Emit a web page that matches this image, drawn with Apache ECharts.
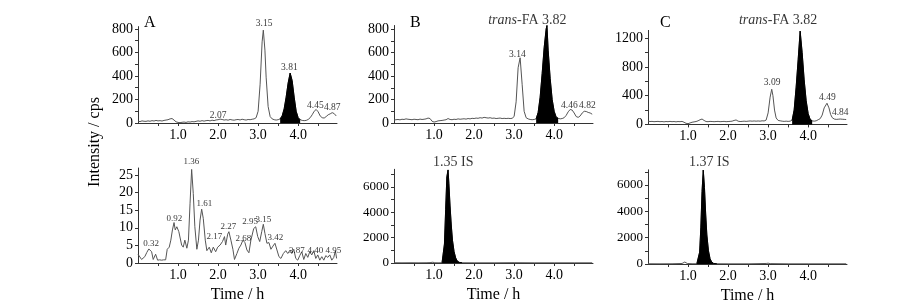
<!DOCTYPE html>
<html><head><meta charset="utf-8">
<script src="https://cdn.jsdelivr.net/npm/echarts@6/dist/echarts.min.js"></script>
<style>html,body{margin:0;padding:0;background:#fff}#c{width:909px;height:305px}</style>
</head><body><div id="c"></div>
<script>
// ---------- data ----------
const xTickValues = [0.5, 1, 1.5, 2, 2.5, 3, 3.5, 4, 4.5];
const xLabelValues = [1, 2, 3, 4];

// Panel A (top): standard chromatogram
const A1_t = [0,0.05,0.1,0.15,0.2,0.25,0.3,0.35,0.4,0.45,0.5,0.55,0.6,0.65,0.7,0.75,0.8,0.85,0.9,0.95,1.0,1.05,1.1,1.15,1.2,1.25,1.3,1.35,1.4,1.45,1.5,1.55,1.6,1.65,1.7,1.75,1.8,1.85,1.9,1.95,2.0,2.05,2.1,2.15,2.2,2.25,2.3,2.35,2.4,2.45,2.5,2.55,2.6,2.65,2.7,2.75,2.8,2.85,2.9,2.95,3.0,3.05,3.1,3.13,3.17,3.2,3.25,3.3,3.35,3.4,3.45,3.5,3.55,3.6,3.65,3.7,3.75,3.8,3.85,3.9,3.95,4.0,4.05,4.1,4.15,4.2,4.25,4.3,4.35,4.4,4.45,4.5,4.55,4.6,4.65,4.7,4.75,4.8,4.85,4.9,4.95];
const A1_v = [15,12,18,15,14,18,15,20,17,22,18,20,17,22,25,28,35,38,25,10,5,3,6,8,5,10,8,12,10,14,18,15,20,16,20,22,18,24,20,26,28,33,30,25,28,24,30,26,24,28,30,26,32,28,25,30,28,32,35,45,100,330,690,790,620,390,140,55,35,28,25,28,35,60,120,220,340,425,360,220,100,45,28,22,20,22,30,45,70,100,115,95,60,45,42,55,70,78,88,80,60];
const A1_fill = [3.55, 4.05];
const A1_peakT = [2.0, 3.15, 3.78, 4.43, 4.85];
const A1_peakV = [68, 843, 468, 145, 136];
const A1_peakTxt = ['2.07', '3.15', '3.81', '4.45', '4.87'];

// Panel A (bottom): blank
const A2_t = [0.00,0.04,0.09,0.17,0.22,0.27,0.31,0.34,0.38,0.44,0.49,0.54,0.59,0.64,0.69,0.73,0.78,0.82,0.86,0.90,0.93,0.97,1.02,1.09,1.13,1.17,1.22,1.26,1.30,1.34,1.38,1.42,1.47,1.51,1.55,1.59,1.63,1.68,1.72,1.78,1.83,1.88,1.94,1.99,2.05,2.11,2.16,2.19,2.24,2.27,2.32,2.37,2.41,2.47,2.52,2.57,2.62,2.67,2.72,2.77,2.82,2.89,2.94,2.99,3.04,3.09,3.13,3.17,3.22,3.27,3.32,3.37,3.42,3.47,3.52,3.57,3.63,3.69,3.74,3.80,3.84,3.89,3.94,3.99,4.04,4.09,4.14,4.19,4.24,4.29,4.34,4.39,4.44,4.49,4.54,4.59,4.64,4.69,4.74,4.79,4.84,4.89,4.93,4.96];
const A2_v = [2.5,2.0,1.0,1.8,3.0,4.0,4.2,3.2,1.0,2.5,0.8,0.9,0.8,0.9,0.9,3.9,4.5,6.5,9.4,11.5,9.4,10.3,8.9,5.1,4.5,6.5,4.2,6.5,17.0,26.6,19.8,10.3,3.9,6.5,12.2,15.3,12.7,6.5,3.5,4.5,2.9,4.5,3.2,4.5,5.1,6.1,7.5,5.1,8.2,8.9,6.5,3.9,1.0,2.7,4.2,5.1,6.5,5.8,3.7,2.9,6.5,9.8,10.3,7.5,6.1,8.9,11.0,8.4,5.6,5.8,3.9,4.8,5.6,3.7,1.8,1.3,2.7,3.5,2.7,3.7,2.7,3.9,1.3,0.8,2.1,3.2,1.0,2.7,1.6,3.2,2.3,3.5,1.3,2.3,0.8,1.8,0.8,2.1,1.6,2.3,0.8,1.6,3.5,1.3];
const A2_peakT = [0.325, 0.91, 1.33, 1.66, 1.91, 2.26, 2.63, 2.80, 3.13, 3.43, 3.97, 4.43, 4.88];
const A2_peakV = [5.6, 12.5, 28.7, 17.0, 7.5, 10.3, 7.0, 11.7, 12.4, 7.3, 3.5, 3.5, 3.5];
const A2_peakTxt = ['0.32','0.92','1.36','1.61','2.17','2.27','2.68','2.95','3.15','3.42','3.87','4.40','4.95'];

// Panel B (top): sample 1
const B1_t = [0,0.05,0.1,0.15,0.2,0.25,0.3,0.35,0.4,0.45,0.5,0.55,0.6,0.65,0.7,0.75,0.8,0.85,0.9,0.95,1.0,1.05,1.1,1.15,1.2,1.25,1.3,1.35,1.4,1.45,1.5,1.55,1.6,1.65,1.7,1.75,1.8,1.85,1.9,1.95,2.0,2.05,2.1,2.15,2.2,2.25,2.3,2.35,2.4,2.45,2.5,2.55,2.6,2.65,2.7,2.75,2.8,2.85,2.9,2.95,3.0,3.05,3.1,3.15,3.2,3.25,3.3,3.35,3.4,3.45,3.5,3.55,3.6,3.65,3.7,3.75,3.8,3.82,3.85,3.9,3.95,4.0,4.05,4.1,4.15,4.2,4.25,4.3,4.35,4.4,4.45,4.5,4.55,4.6,4.65,4.7,4.75,4.8,4.85,4.9,4.95];
const B1_v = [25,28,30,27,32,30,35,32,30,28,32,30,28,33,30,32,35,42,38,15,8,12,18,20,22,25,28,38,30,28,32,30,35,32,34,36,33,38,35,40,38,42,40,45,42,48,45,42,45,40,42,38,40,42,38,40,38,40,38,40,55,180,470,555,330,100,45,35,30,28,30,35,90,220,420,640,800,830,620,380,200,100,50,40,35,38,45,65,95,115,110,85,55,48,60,85,100,98,90,85,75];
const B1_fill = [3.55, 4.1];
const B1_peakT = [3.08, 4.38, 4.83];
const B1_peakV = [579, 153, 153];
const B1_peakTxt = ['3.14', '4.46', '4.82'];
const B1_tagT = 3.33, B1_tagV = 877;

// Panel B (bottom): internal standard
const B2_t = [0.0,0.2,0.4,0.6,0.8,0.9,0.97,1.02,1.1,1.2,1.23,1.26,1.29,1.32,1.35,1.37,1.40,1.43,1.46,1.50,1.54,1.58,1.63,1.70,2.0,2.5,3.0,3.5,4.0,4.5,4.95];
const B2_v = [20,15,20,15,20,30,60,20,15,20,100,1500,4200,6800,7350,6300,4500,3000,1800,900,400,150,50,20,15,15,25,15,15,15,15];
const B2_fill = [1.2, 1.7];
const B2_tagT = 1.48, B2_tagV = 7974, B2_tag = '1.35 IS';

// Panel C (top): sample 2
const C1_t = [0,0.05,0.1,0.15,0.2,0.25,0.3,0.35,0.4,0.45,0.5,0.55,0.6,0.65,0.7,0.75,0.8,0.85,0.9,0.95,1.0,1.05,1.1,1.15,1.2,1.25,1.3,1.35,1.4,1.45,1.5,1.55,1.6,1.65,1.7,1.75,1.8,1.85,1.9,1.95,2.0,2.05,2.1,2.15,2.2,2.25,2.3,2.35,2.4,2.45,2.5,2.55,2.6,2.65,2.7,2.75,2.8,2.85,2.9,2.95,3.0,3.05,3.09,3.12,3.16,3.2,3.25,3.3,3.35,3.4,3.45,3.5,3.55,3.6,3.65,3.7,3.75,3.8,3.85,3.9,3.95,4.0,4.05,4.1,4.15,4.2,4.25,4.3,4.35,4.4,4.47,4.52,4.56,4.6,4.65,4.7,4.75,4.8,4.85,4.9,4.95];
const C1_v = [45,40,42,38,40,42,38,40,36,40,38,42,38,40,36,40,38,42,30,15,10,20,30,35,40,50,65,75,55,40,38,42,40,38,40,42,38,40,42,38,40,42,45,55,62,45,40,42,45,42,45,48,45,48,45,48,45,50,48,60,160,380,490,400,200,90,55,50,45,42,45,42,45,60,200,520,900,1300,1000,620,330,150,70,50,45,50,65,80,130,230,295,230,140,95,75,70,72,75,72,70,68];
const C1_fill = [3.6, 4.1];
const C1_peakT = [3.10, 4.48, 4.80];
const C1_peakV = [577, 372, 159];
const C1_peakTxt = ['3.09', '4.49', '4.84'];
const C1_tagT = 3.25, C1_tagV = 1455;

// Panel C (bottom): internal standard
const C2_t = [0.0,0.3,0.6,0.85,0.92,0.98,1.1,1.22,1.26,1.29,1.32,1.35,1.38,1.41,1.44,1.47,1.51,1.55,1.59,1.64,1.72,2.0,2.5,2.95,3.0,3.05,3.5,4.0,4.5,4.95];
const C2_v = [20,15,20,40,150,40,20,20,100,900,2800,5500,7130,5800,3800,2200,1000,400,150,40,20,15,15,40,60,30,15,15,15,15];
const C2_fill = [1.22, 1.72];
const C2_tagT = 1.53, C2_tagV = 7740, C2_tag = '1.37 IS';

// axis ticks / labels
const A1_yLabels = [0,200,400,600,800], A1_yTicks = [0,100,200,300,400,500,600,700,800];
const A2_yLabels = [0,5,10,15,20,25], A2_yTicks = [0,5,10,15,20,25];
const B1_yLabels = [0,200,400,600,800], B1_yTicks = [0,100,200,300,400,500,600,700,800];
const B2_yLabels = [0,2000,4000,6000], B2_yTicks = [0,1000,2000,3000,4000,5000,6000,7000];
const C1_yLabels = [0,400,800,1200], C1_yTicks = [0,200,400,600,800,1000,1200];
const C2_yLabels = [0,2000,4000,6000], C2_yTicks = [0,1000,2000,3000,4000,5000,6000,7000];

// ---------- build ----------
const SERIF = '"Liberation Serif","DejaVu Serif",serif';
const zip = (t, v) => t.map((x, i) => [x, v[i]]);
const panels = [
  {g:{left:138,top:26.6,width:199,height:96.4}, yMax:820,  yl:A1_yLabels, yt:A1_yTicks, t:A1_t, v:A1_v, fill:A1_fill, pk:[A1_peakT,A1_peakV,A1_peakTxt], pfs:9.5, fs:14, xName:''},
  {g:{left:394,top:25.5,width:199,height:97.5}, yMax:830,  yl:B1_yLabels, yt:B1_yTicks, t:B1_t, v:B1_v, fill:B1_fill, pk:[B1_peakT,B1_peakV,B1_peakTxt], pfs:9.5, fs:14, xName:'', tag:[B1_tagT,B1_tagV,'{i|trans}-FA 3.82']},
  {g:{left:648,top:30.4,width:199,height:94},   yMax:1310, yl:C1_yLabels, yt:C1_yTicks, t:C1_t, v:C1_v, fill:C1_fill, pk:[C1_peakT,C1_peakV,C1_peakTxt], pfs:9.5, fs:14, xName:'', tag:[C1_tagT,C1_tagV,'{i|trans}-FA 3.82']},
  {g:{left:138,top:168,width:199,height:95},    yMax:27,   yl:A2_yLabels, yt:A2_yTicks, t:A2_t, v:A2_v, fill:null, pk:[A2_peakT,A2_peakV,A2_peakTxt], pfs:9, fs:14, xName:'Time / h'},
  {g:{left:394,top:169.3,width:199,height:93.7},yMax:7400, yl:B2_yLabels, yt:B2_yTicks, t:B2_t, v:B2_v, fill:B2_fill, pk:null, pfs:9, fs:13, xName:'Time / h', tag:[B2_tagT,B2_tagV,B2_tag]},
  {g:{left:648,top:169.8,width:199,height:94.5},yMax:7150, yl:C2_yLabels, yt:C2_yTicks, t:C2_t, v:C2_v, fill:C2_fill, pk:null, pfs:9, fs:13, xName:'Time / h', tag:[C2_tagT,C2_tagV,C2_tag]}
];

const axisCol = '#333';
const option = {animation:false, grid:[], xAxis:[], yAxis:[], series:[], graphic:[]};
panels.forEach((p, i) => {
  option.grid.push(p.g);
  option.xAxis.push({
    type:'value', gridIndex:i, min:0, max:4.97,
    axisLine:{show:true, onZero:false, lineStyle:{color:axisCol, width:1}},
    axisTick:{show:true, length:3, customValues:xTickValues, lineStyle:{color:axisCol}},
    axisLabel:{customValues:xLabelValues, formatter:v => v.toFixed(1), margin:5, color:'#000', fontFamily:SERIF, fontSize:14},
    splitLine:{show:false},
    name:p.xName, nameLocation:'middle', nameGap:24,
    nameTextStyle:{color:'#000', fontFamily:SERIF, fontSize:16}
  });
  option.yAxis.push({
    type:'value', gridIndex:i, min:0, max:p.yMax,
    axisLine:{show:true, lineStyle:{color:axisCol, width:1}},
    axisTick:{show:true, length:3, customValues:p.yt, lineStyle:{color:axisCol}},
    axisLabel:{customValues:p.yl, formatter:v => String(v), margin:5, color:'#000', fontFamily:SERIF, fontSize:p.fs},
    splitLine:{show:false}
  });
  option.series.push({
    type:'line', xAxisIndex:i, yAxisIndex:i, data:zip(p.t, p.v),
    showSymbol:false, symbol:'none', lineStyle:{color:'#555', width:1}, z:3
  });
  if (p.fill) {
    const d = zip(p.t, p.v).filter(q => q[0] >= p.fill[0] && q[0] <= p.fill[1]);
    option.series.push({
      type:'line', xAxisIndex:i, yAxisIndex:i, data:d, showSymbol:false, symbol:'none',
      lineStyle:{color:'#000', width:1}, areaStyle:{color:'#000', opacity:1}, z:4
    });
  }
  const lab = [];
  if (p.pk) p.pk[0].forEach((t, k) => lab.push({value:[t, p.pk[1][k]], txt:p.pk[2][k], fs:p.pfs}));
  if (p.tag) lab.push({value:[p.tag[0], p.tag[1]], txt:p.tag[2], fs:14});
  option.series.push({
    type:'scatter', xAxisIndex:i, yAxisIndex:i, symbolSize:0, clip:false, silent:true, z:5,
    data:lab.map(o => ({value:o.value, label:{show:true, position:'inside', formatter:o.txt, fontSize:o.fs,
      color:'#000', fontFamily:SERIF, rich:{i:{fontStyle:'italic', fontSize:o.fs, fontFamily:SERIF, color:'#000'}}}}))
  });
});

option.graphic = [
  {type:'text', left:144, top:15, style:{text:'A', font:'16px "Liberation Serif", serif', fill:'#000'}},
  {type:'text', left:410, top:15, style:{text:'B', font:'16px "Liberation Serif", serif', fill:'#000'}},
  {type:'text', left:660, top:15, style:{text:'C', font:'16px "Liberation Serif", serif', fill:'#000'}},
  {type:'text', x:95, y:142, rotation:Math.PI/2,
   style:{text:'Intensity / cps', font:'16px "Liberation Serif", serif', fill:'#000', align:'center', verticalAlign:'middle'}}
];

const chart = echarts.init(document.getElementById('c'), null, {renderer:'canvas'});
chart.setOption(option);
</script>
</body></html>
